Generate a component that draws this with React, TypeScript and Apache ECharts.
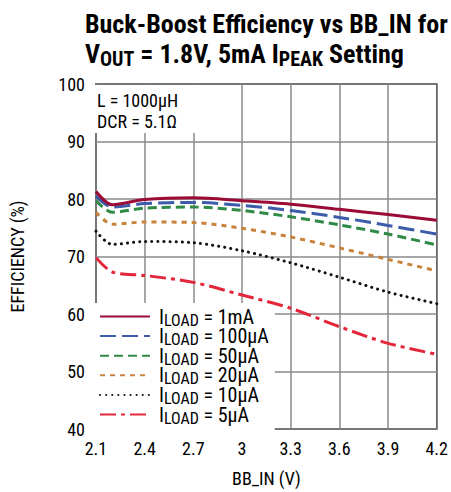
import React, { useEffect, useRef } from "react";
import * as echarts from "echarts";

const xValues = [2.1, 2.2, 2.4, 2.7, 3.0, 3.3, 3.6, 3.9, 4.2];
const load1mA = [81.3, 79.0, 79.9, 80.2, 79.7, 79.1, 78.2, 77.3, 76.3];
const load100uA = [80.5, 78.6, 79.2, 79.4, 78.9, 78.0, 76.8, 75.4, 73.9];
const load50uA = [79.7, 77.7, 78.4, 78.6, 78.0, 76.9, 75.5, 73.9, 72.0];
const load20uA = [77.7, 75.6, 76.0, 75.9, 74.9, 73.4, 71.5, 69.5, 67.5];
const load10uA = [74.4, 72.1, 72.6, 72.4, 71.0, 68.9, 66.4, 63.8, 61.8];
const load5uA = [69.8, 67.3, 66.7, 65.5, 63.3, 61.0, 57.8, 54.9, 53.0];
const seriesNames = ["1mA", "100µA", "50µA", "20µA", "10µA", "5µA"];
const xTicks = { min: 2.1, max: 4.2, interval: 0.3 };
const yTicks = { min: 40, max: 100, interval: 10 };

const FONT = "'Liberation Sans Narrow', 'Roboto Condensed', 'DejaVu Sans Condensed', Roboto, sans-serif";

export default function App() {
  const ref = useRef<HTMLDivElement>(null);
  useEffect(() => {
    if (!ref.current) return;
    const chart = echarts.init(ref.current, null, { renderer: "svg" });
    const allData = [load1mA, load100uA, load50uA, load20uA, load10uA, load5uA];
    const styles = [
      { color: "#9a0b35", type: "solid" as any, width: 3 },
      { color: "#3c5bab", type: [16, 6] as any, width: 3 },
      { color: "#2f8a47", type: [9, 5] as any, width: 3 },
      { color: "#c8823c", type: [5, 5] as any, width: 3 },
      { color: "#111111", type: [0.1, 6] as any, width: 3, cap: "round" as any },
      { color: "#e3263a", type: [16, 5, 4, 5] as any, width: 3 },
    ];
    const series = allData.map((d, i) => ({
      name: seriesNames[i],
      type: "line",
      data: d.map((v, j) => [xValues[j], v]),
      smooth: 0.3,
      symbol: "none",
      lineStyle: styles[i],
      itemStyle: { color: styles[i].color },
      z: 10 - i,
    }));
    chart.setOption({
      animation: false,
      textStyle: { fontFamily: FONT },
      title: {
        left: 80,
        top: 4,
        text: "{b|Buck-Boost Efficiency vs BB_IN for}\n{b|V}{s|OUT}{b| = 1.8V, 5mA I}{s|PEAK}{b| Setting}",
        textStyle: {
          rich: {
            b: { fontFamily: FONT, fontWeight: "bold", fontSize: 26, color: "#000", lineHeight: 30 },
            s: { fontFamily: FONT, fontWeight: "bold", fontSize: 20, color: "#000", lineHeight: 24, padding: [9, 0, 0, 0] },
          },
        },
      },
      grid: { left: 88, right: 11, top: 84, bottom: 58, show: true, borderColor: "#000", borderWidth: 1.5 },
      xAxis: {
        type: "value",
        min: xTicks.min,
        max: xTicks.max,
        interval: xTicks.interval,
        name: "BB_IN (V)",
        nameLocation: "middle",
        nameGap: 40,
        nameTextStyle: { fontFamily: FONT, fontSize: 18, color: "#000" },
        axisLine: { show: false },
        axisTick: { show: false },
        axisLabel: { fontFamily: FONT, fontSize: 18, color: "#000", margin: 10, formatter: (v: number) => String(+v.toFixed(1)) },
        splitLine: { lineStyle: { color: "#8a8a8a", width: 1.5 } },
      },
      yAxis: {
        type: "value",
        min: yTicks.min,
        max: yTicks.max,
        interval: yTicks.interval,
        name: "EFFICIENCY (%)",
        nameLocation: "middle",
        nameGap: 70,
        nameTextStyle: { fontFamily: FONT, fontSize: 18, color: "#000" },
        axisLine: { show: false },
        axisTick: { show: false },
        axisLabel: { fontFamily: FONT, fontSize: 18, color: "#000", margin: 11 },
        splitLine: { lineStyle: { color: "#8a8a8a", width: 1.5 } },
      },
      legend: {
        orient: "vertical",
        left: 95,
        top: 303,
        padding: [2, 6, 4, 4],
        backgroundColor: "#fff",
        itemWidth: 50,
        itemHeight: 12,
        itemGap: -3.4,
        itemStyle: { opacity: 0 },
        data: seriesNames,
        formatter: (n: string) => `{f|I}{s|LOAD}{i| = ${n}}`,
        textStyle: {
          rich: {
            f: { fontFamily: FONT, fontSize: 20, color: "#000", lineHeight: 19.6, padding: [0, 0, 0, 4] },
            i: { fontFamily: FONT, fontSize: 20, color: "#000", lineHeight: 19.6 },
            s: { fontFamily: FONT, fontSize: 16, color: "#000", lineHeight: 12.6, padding: [7, 0, 0, 0] },
          },
        },
      },
      graphic: [
        { type: "rect", left: 89, top: 85, shape: { width: 110, height: 48 }, style: { fill: "#fff" }, z: 5 },
        {
          type: "text",
          left: 97,
          top: 90,
          z: 6,
          style: { text: "L = 1000µH\nDCR = 5.1Ω", font: `18px ${FONT}`, fill: "#000", lineHeight: 21 },
        },
      ],
      series,
    });
    return () => chart.dispose();
  }, []);
  return <div ref={ref} style={{ width: 451, height: 492, position: "absolute", left: 0, top: 0 }} />;
}
